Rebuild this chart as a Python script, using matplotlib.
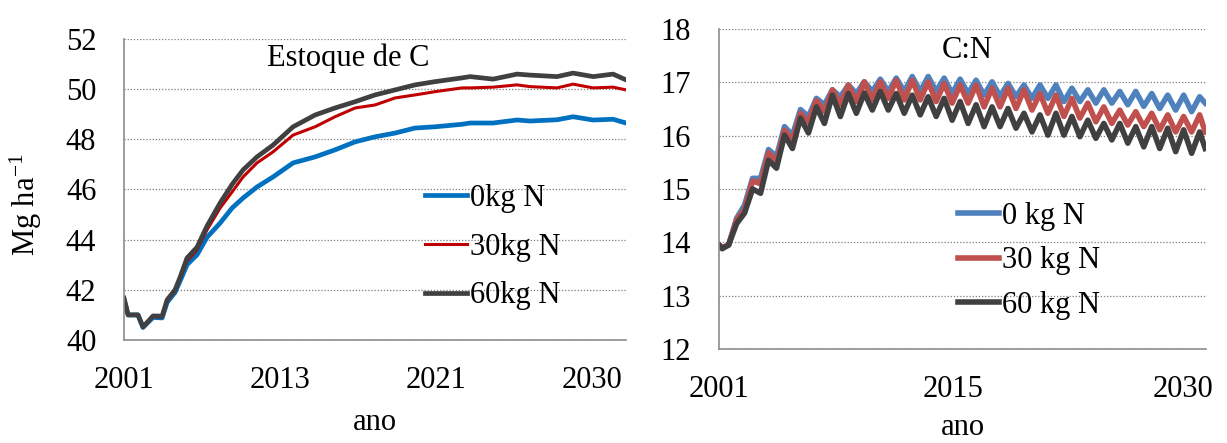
import numpy as np
import matplotlib
matplotlib.use("Agg")
import matplotlib.pyplot as plt

plt.rcParams['font.family'] = ['Liberation Serif', 'DejaVu Serif']
plt.rcParams['mathtext.default'] = 'regular'

# ---- Estoque de C (Mg ha-1), tempo em anos desde 2001 ----
t_c = [0.0, 0.25, 0.86, 1.17, 1.79, 2.35, 2.66, 3.15, 3.46, 3.89, 4.51, 5.13,
       5.93, 6.67, 7.35, 8.21, 9.2, 10.44, 11.8, 13.03, 14.27, 15.5, 16.74,
       17.97, 19.21, 20.88, 21.37, 22.79, 24.27, 25.08, 26.74, 27.73, 28.97,
       30.2, 31.0]
c_0kg = [41.6, 41.0, 41.0, 40.5, 40.9, 40.88, 41.5, 41.9, 42.35, 43.0, 43.4,
         44.1, 44.66, 45.26, 45.66, 46.1, 46.5, 47.06, 47.3, 47.58, 47.9, 48.1,
         48.25, 48.45, 48.5, 48.6, 48.65, 48.65, 48.77, 48.73, 48.78, 48.9,
         48.77, 48.8, 48.65]
c_30kg = [41.6, 41.0, 41.0, 40.55, 40.93, 40.92, 41.55, 41.95, 42.45, 43.15,
          43.6, 44.4, 45.26, 45.9, 46.5, 47.06, 47.5, 48.17, 48.5, 48.9, 49.25,
          49.37, 49.65, 49.77, 49.9, 50.05, 50.05, 50.08, 50.17, 50.1, 50.05,
          50.2, 50.05, 50.08, 49.97]
c_60kg = [41.67, 41.0, 41.0, 40.52, 40.96, 40.95, 41.6, 42.0, 42.5, 43.27,
          43.7, 44.55, 45.46, 46.2, 46.78, 47.3, 47.77, 48.5, 48.97, 49.25,
          49.5, 49.77, 49.97, 50.17, 50.3, 50.45, 50.5, 50.4, 50.6, 50.56,
          50.5, 50.64, 50.5, 50.6, 50.37]
ticks_c = [0, 9.64, 19.27, 28.9]
labels_c = ['2001', '2013', '2021', '2030']

# ---- C:N ----
t_cn = [0.0, 0.2, 0.6]
for k in range(1, 30):
    t_cn += [k + 0.1, k + 0.6]
t_cn += [30.1, 30.45]

cn_0kg = [13.95, 13.9, 13.95,
          14.45, 14.7, 15.2, 15.2, 15.74, 15.61, 16.17, 16.01, 16.49, 16.36,
          16.70, 16.58, 16.86, 16.73, 16.95, 16.79, 17.01, 16.83, 17.06, 16.83,
          17.08, 16.83, 17.11, 16.83, 17.11, 16.83, 17.08, 16.79, 17.06, 16.79,
          17.04, 16.76, 17.01, 16.74, 16.98, 16.73, 16.95, 16.70, 16.95, 16.70,
          16.95, 16.64, 16.89, 16.64, 16.86, 16.61, 16.86, 16.61, 16.83, 16.58,
          16.83, 16.55, 16.79, 16.51, 16.76, 16.48, 16.76, 16.45,
          16.73, 16.61]
cn_30kg = [13.95, 13.9, 13.95,
           14.42, 14.62, 15.15, 15.1, 15.68, 15.52, 16.1, 15.92, 16.42, 16.25,
           16.66, 16.45, 16.86, 16.58, 16.95, 16.64, 17.01, 16.67, 17.01, 16.70,
           17.04, 16.67, 17.04, 16.67, 17.01, 16.64, 16.98, 16.61, 16.95, 16.61,
           16.95, 16.54, 16.89, 16.54, 16.89, 16.51, 16.86, 16.48, 16.79, 16.42,
           16.76, 16.36, 16.70, 16.33, 16.61, 16.26, 16.54, 16.23, 16.48, 16.20,
           16.45, 16.17, 16.42, 16.11, 16.39, 16.07, 16.36, 16.07,
           16.39, 16.07]
cn_60kg = [13.95, 13.88, 13.95,
           14.35, 14.55, 15.0, 14.92, 15.54, 15.39, 16.01, 15.76, 16.33, 16.05,
           16.54, 16.23, 16.76, 16.36, 16.79, 16.42, 16.80, 16.48, 16.83, 16.48,
           16.79, 16.42, 16.76, 16.39, 16.73, 16.36, 16.70, 16.29, 16.64, 16.23,
           16.58, 16.17, 16.54, 16.17, 16.51, 16.14, 16.42, 16.07, 16.39, 16.01,
           16.42, 16.01, 16.36, 15.98, 16.29, 15.95, 16.23, 15.92, 16.23, 15.86,
           16.17, 15.79, 16.17, 15.76, 16.14, 15.70, 16.11, 15.67,
           16.07, 15.76]
ticks_cn = [0, 14.66, 29.07]
labels_cn = ['2001', '2015', '2030']

fig = plt.figure(figsize=(12.27, 4.43), dpi=100)
ax1 = fig.add_axes([0.1011, 0.2325, 0.4091, 0.6795])
ax2 = fig.add_axes([0.586, 0.2122, 0.3969, 0.7223])

fs = 22

def style(ax, ymin, ymax):
    ax.set_ylim(ymin, ymax)
    ax.set_yticks(np.arange(ymin, ymax + 1, 1 if ymax - ymin < 8 else 2))
    ax.grid(axis='y', linestyle=(0, (1, 1.5)), color='#7f7f7f', linewidth=0.9)
    ax.set_axisbelow(True)
    for s in ['top', 'right']:
        ax.spines[s].set_visible(False)
    for s in ['left', 'bottom']:
        ax.spines[s].set_color('#8c8c8c')
        ax.spines[s].set_linewidth(1.2)
    ax.tick_params(axis='both', length=0, labelsize=fs)
    ax.tick_params(axis='x', pad=19)
    ax.tick_params(axis='y', pad=20)

# left panel
ax1.plot(t_c, c_0kg, color='#0070C0', lw=3.4, label='0kg N')
ax1.plot(t_c, c_30kg, color='#C00000', lw=2.2, label='30kg N')
ax1.plot(t_c, c_60kg, color='#404040', lw=3.4, label='60kg N')
ax1.set_xlim(0, 31)
style(ax1, 40, 52)
ax1.set_xticks(ticks_c)
ax1.set_xticklabels(labels_c)
ax1.set_xlabel('ano', fontsize=fs, labelpad=9)
ax1.set_ylabel('Mg ha$^{-1}$', fontsize=fs)
ax1.yaxis.set_label_coords(-0.16, 0.45)
ax1.text(0.446, 0.935, 'Estoque de C', transform=ax1.transAxes,
         ha='center', va='center', fontsize=fs)
ax1.legend(loc='upper left', bbox_to_anchor=(0.576, 0.56), frameon=False,
           fontsize=fs, handlelength=1.35, handletextpad=0.1,
           labelspacing=0.65, borderaxespad=0)

# right panel
ax2.plot(t_cn, cn_0kg, color='#4F81BD', lw=4.0, label='0 kg N')
ax2.plot(t_cn, cn_30kg, color='#C0504D', lw=4.0, label='30 kg N')
ax2.plot(t_cn, cn_60kg, color='#404040', lw=4.0, label='60 kg N')
ax2.set_xlim(0, 30.5)
style(ax2, 12, 18)
ax2.set_xticks(ticks_cn)
ax2.set_xticklabels(labels_cn)
ax2.set_xlabel('ano', fontsize=fs, labelpad=6)
ax2.text(0.51, 0.934, 'C:N', transform=ax2.transAxes,
         ha='center', va='center', fontsize=fs)
ax2.legend(loc='upper left', bbox_to_anchor=(0.465, 0.497), frameon=False,
           fontsize=fs, handlelength=1.35, handletextpad=0.1,
           labelspacing=0.5, borderaxespad=0)

fig.savefig('out.png', dpi=100)
